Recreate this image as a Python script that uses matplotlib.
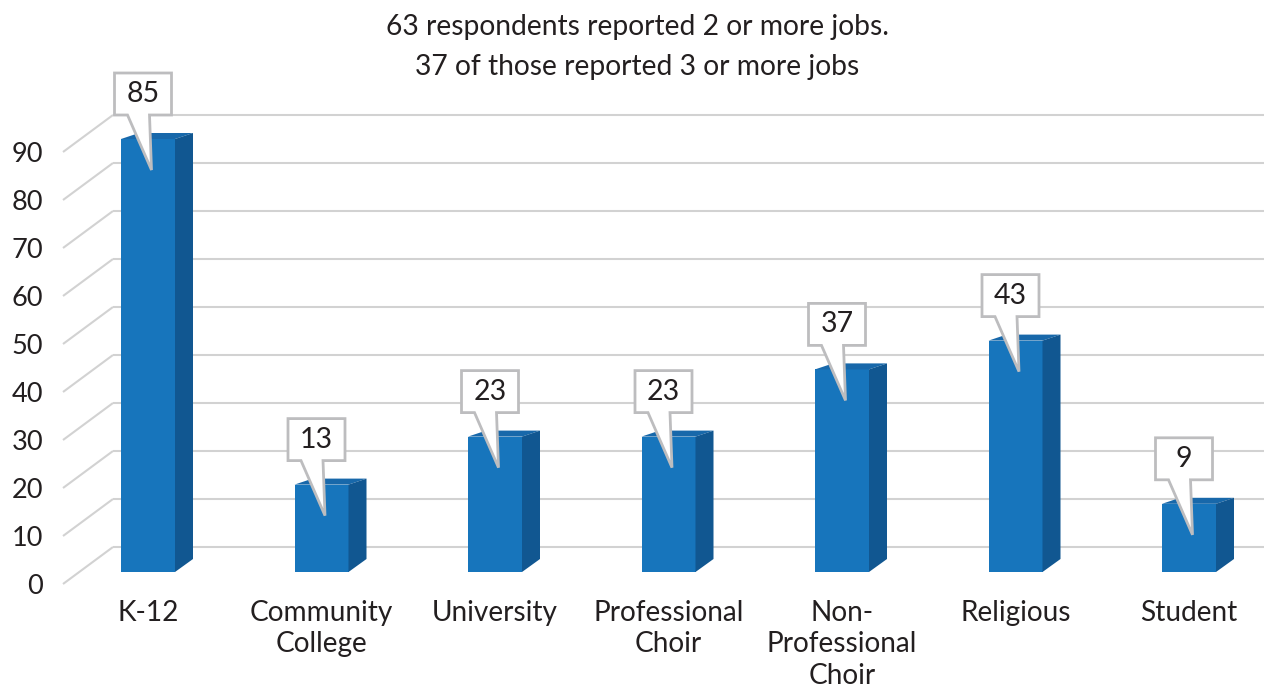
import matplotlib
matplotlib.use("Agg")
import matplotlib.pyplot as plt
from matplotlib.patches import Polygon, Rectangle

# ---- data ----
categories = ["K-12", "Community\nCollege", "University", "Professional\nChoir",
              "Non-\nProfessional\nChoir", "Religious", "Student"]
counts = [85, 13, 23, 23, 37, 43, 9]
y_ticks = list(range(0, 100, 10))
title_lines = ["63 respondents reported 2 or more jobs.",
               "37 of those reported 3 or more jobs"]

# ---- style ----
plt.rcParams["font.family"] = ["Lato", "DejaVu Sans"]
TEXT = "#231F20"
GRID = "#D2D2D2"
FRONT = "#1775BC"
SIDE = "#115791"
TOP = "#1868AA"
EDGE = "#BDBDBF"

W, H, DPI = 1264, 689, 100
PX_PER_CAT = 173.5     # horizontal pixels per category step
PX_PER_UNIT = 4.8      # vertical pixels per value unit
X0_PX = 148            # pixel column of the first category
Y0_PX = 547            # pixel row of the zero line on the back wall

fig = plt.figure(figsize=(W / DPI, H / DPI), dpi=DPI)
ax = fig.add_axes([0, 0, 1, 1])
n = len(categories)
ax.set_xlim(-X0_PX / PX_PER_CAT, (W - X0_PX) / PX_PER_CAT)
ax.set_ylim(-(H - Y0_PX) / PX_PER_UNIT, Y0_PX / PX_PER_UNIT)
ax.axis("off")


def dx(px):
    return px / PX_PER_CAT


def dy(px):
    return px / PX_PER_UNIT


def xpix(px):
    return (px - X0_PX) / PX_PER_CAT


# ---- back wall gridlines with slanted floor stubs ----
x_stub0, x_wall, x_end = xpix(63), xpix(113), ax.get_xlim()[1]
for t in y_ticks:
    ax.plot([x_stub0, x_wall], [t - dy(37), t], color=GRID, lw=1.5,
            solid_capstyle="butt", zorder=1)
    ax.plot([x_wall, x_end], [t, t], color=GRID, lw=1.5,
            solid_capstyle="butt", zorder=1)
    ax.text(xpix(43), t - dy(39), str(t), ha="right", va="center",
            fontsize=19.5, color=TEXT)

# ---- 3D-style columns ----
floor = -dy(25)
half = dx(27)
depth_x = dx(18)
for i, v in enumerate(counts):
    left, right = i - half, i + half
    ax.add_patch(Rectangle((left, floor), right - left, v - floor,
                           facecolor=FRONT, edgecolor="none", zorder=3))
    ax.add_patch(Polygon([(left, v), (right, v),
                          (right + depth_x, v + dy(6)),
                          (left + depth_x, v + dy(6))],
                         closed=True, facecolor=TOP, edgecolor="none", zorder=3))
    ax.add_patch(Polygon([(right, v), (right + depth_x, v + dy(6)),
                          (right + depth_x, floor + dy(13)), (right, floor)],
                         closed=True, facecolor=SIDE, edgecolor="none", zorder=3))

    # callout box with pointer into the column
    bl = i - dx(33.5)
    br = bl + dx(57)
    bb = v + dy(24)
    bt = bb + dy(42)
    tip = (bl + dx(37), v - dy(31))
    ax.add_patch(Polygon([(bl, bb), (bl + dx(13), bb), tip, (bl + dx(35), bb),
                          (br, bb), (br, bt), (bl, bt)],
                         closed=True, facecolor="white", edgecolor=EDGE,
                         lw=2.0, joinstyle="miter", zorder=5))
    ax.text((bl + br) / 2, (bb + bt) / 2, str(v), ha="center", va="center",
            fontsize=20.5, color=TEXT, zorder=6)

    ax.text(i, -dy(600 - Y0_PX), categories[i], ha="center", va="top",
            fontsize=20.2, color=TEXT, linespacing=1.26)

# ---- heading ----
fig.text(637 / W, 1 - 27 / H, title_lines[0], ha="center", va="center",
         fontsize=20.3, color=TEXT)
fig.text(637 / W, 1 - 67 / H, title_lines[1], ha="center", va="center",
         fontsize=20.3, color=TEXT)

fig.savefig("out.png", dpi=DPI, facecolor="white")
